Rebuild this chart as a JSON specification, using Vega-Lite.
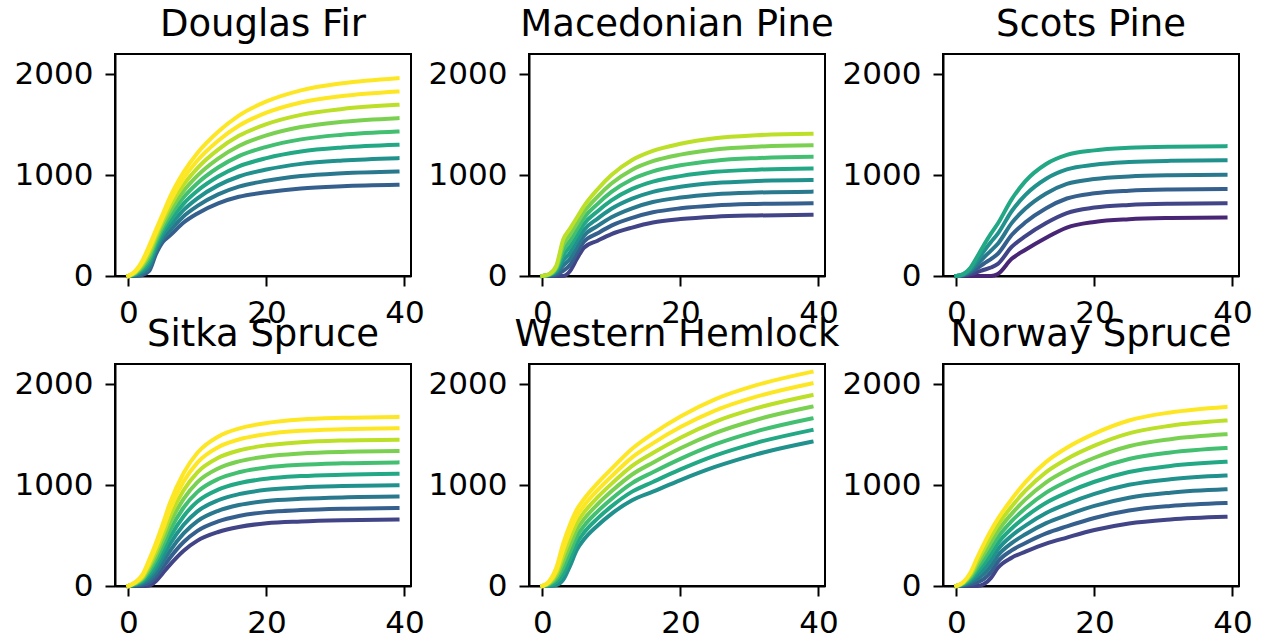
{
"$schema": "https://vega.github.io/schema/vega-lite/v6.json",
"padding": {"left": 13, "top": 5, "right": 0, "bottom": 0},
"background": "white",
"config": {
  "font": "DejaVu Sans",
  "view": {"stroke": "black", "strokeWidth": 2},
  "axis": {"grid": false, "domainColor": "black", "domainWidth": 2, "tickColor": "black", "tickWidth": 2, "tickSize": 10, "labelFontSize": 31, "labelColor": "black", "labelPadding": 12, "labelFlush": false, "labelOverlap": false, "title": null, "format": "d"},
  "title": {"fontSize": 37, "fontWeight": "normal", "color": "black", "offset": 10},
  "line": {"strokeWidth": 4, "interpolate": "monotone", "strokeCap": "square"}
},
"data": {"values": [
{"sp":"DF","yc":8,"t":0,"v":0},{"sp":"DF","yc":8,"t":1,"v":0},{"sp":"DF","yc":8,"t":2,"v":10},{"sp":"DF","yc":8,"t":3,"v":50},{"sp":"DF","yc":8,"t":4,"v":220},{"sp":"DF","yc":8,"t":5,"v":340},{"sp":"DF","yc":8,"t":6,"v":400},{"sp":"DF","yc":8,"t":8,"v":530},{"sp":"DF","yc":8,"t":10,"v":620},{"sp":"DF","yc":8,"t":13,"v":720},{"sp":"DF","yc":8,"t":16,"v":785},{"sp":"DF","yc":8,"t":20,"v":830},{"sp":"DF","yc":8,"t":25,"v":868},{"sp":"DF","yc":8,"t":31,"v":890},{"sp":"DF","yc":8,"t":39,"v":904},
{"sp":"DF","yc":10,"t":0,"v":0},{"sp":"DF","yc":10,"t":1,"v":6},{"sp":"DF","yc":10,"t":2,"v":28},{"sp":"DF","yc":10,"t":3,"v":81},{"sp":"DF","yc":10,"t":4,"v":250},{"sp":"DF","yc":10,"t":5,"v":375},{"sp":"DF","yc":10,"t":6,"v":448},{"sp":"DF","yc":10,"t":8,"v":593},{"sp":"DF","yc":10,"t":10,"v":695},{"sp":"DF","yc":10,"t":13,"v":809},{"sp":"DF","yc":10,"t":16,"v":886},{"sp":"DF","yc":10,"t":20,"v":943},{"sp":"DF","yc":10,"t":25,"v":990},{"sp":"DF","yc":10,"t":31,"v":1018},{"sp":"DF","yc":10,"t":39,"v":1036},
{"sp":"DF","yc":12,"t":0,"v":0},{"sp":"DF","yc":12,"t":1,"v":13},{"sp":"DF","yc":12,"t":2,"v":45},{"sp":"DF","yc":12,"t":3,"v":113},{"sp":"DF","yc":12,"t":4,"v":280},{"sp":"DF","yc":12,"t":5,"v":410},{"sp":"DF","yc":12,"t":6,"v":495},{"sp":"DF","yc":12,"t":8,"v":655},{"sp":"DF","yc":12,"t":10,"v":770},{"sp":"DF","yc":12,"t":13,"v":898},{"sp":"DF","yc":12,"t":16,"v":986},{"sp":"DF","yc":12,"t":20,"v":1055},{"sp":"DF","yc":12,"t":25,"v":1111},{"sp":"DF","yc":12,"t":31,"v":1145},{"sp":"DF","yc":12,"t":39,"v":1168},
{"sp":"DF","yc":14,"t":0,"v":0},{"sp":"DF","yc":14,"t":1,"v":19},{"sp":"DF","yc":14,"t":2,"v":63},{"sp":"DF","yc":14,"t":3,"v":144},{"sp":"DF","yc":14,"t":4,"v":310},{"sp":"DF","yc":14,"t":5,"v":445},{"sp":"DF","yc":14,"t":6,"v":543},{"sp":"DF","yc":14,"t":8,"v":718},{"sp":"DF","yc":14,"t":10,"v":845},{"sp":"DF","yc":14,"t":13,"v":986},{"sp":"DF","yc":14,"t":16,"v":1087},{"sp":"DF","yc":14,"t":20,"v":1168},{"sp":"DF","yc":14,"t":25,"v":1233},{"sp":"DF","yc":14,"t":31,"v":1273},{"sp":"DF","yc":14,"t":39,"v":1300},
{"sp":"DF","yc":16,"t":0,"v":0},{"sp":"DF","yc":16,"t":1,"v":25},{"sp":"DF","yc":16,"t":2,"v":80},{"sp":"DF","yc":16,"t":3,"v":175},{"sp":"DF","yc":16,"t":4,"v":340},{"sp":"DF","yc":16,"t":5,"v":480},{"sp":"DF","yc":16,"t":6,"v":590},{"sp":"DF","yc":16,"t":8,"v":780},{"sp":"DF","yc":16,"t":10,"v":920},{"sp":"DF","yc":16,"t":13,"v":1075},{"sp":"DF","yc":16,"t":16,"v":1188},{"sp":"DF","yc":16,"t":20,"v":1280},{"sp":"DF","yc":16,"t":25,"v":1354},{"sp":"DF","yc":16,"t":31,"v":1400},{"sp":"DF","yc":16,"t":39,"v":1432},
{"sp":"DF","yc":18,"t":0,"v":0},{"sp":"DF","yc":18,"t":1,"v":31},{"sp":"DF","yc":18,"t":2,"v":98},{"sp":"DF","yc":18,"t":3,"v":206},{"sp":"DF","yc":18,"t":4,"v":370},{"sp":"DF","yc":18,"t":5,"v":515},{"sp":"DF","yc":18,"t":6,"v":638},{"sp":"DF","yc":18,"t":8,"v":843},{"sp":"DF","yc":18,"t":10,"v":995},{"sp":"DF","yc":18,"t":13,"v":1164},{"sp":"DF","yc":18,"t":16,"v":1288},{"sp":"DF","yc":18,"t":20,"v":1393},{"sp":"DF","yc":18,"t":25,"v":1476},{"sp":"DF","yc":18,"t":31,"v":1528},{"sp":"DF","yc":18,"t":39,"v":1564},
{"sp":"DF","yc":20,"t":0,"v":0},{"sp":"DF","yc":20,"t":1,"v":38},{"sp":"DF","yc":20,"t":2,"v":115},{"sp":"DF","yc":20,"t":3,"v":238},{"sp":"DF","yc":20,"t":4,"v":400},{"sp":"DF","yc":20,"t":5,"v":550},{"sp":"DF","yc":20,"t":6,"v":685},{"sp":"DF","yc":20,"t":8,"v":905},{"sp":"DF","yc":20,"t":10,"v":1070},{"sp":"DF","yc":20,"t":13,"v":1253},{"sp":"DF","yc":20,"t":16,"v":1389},{"sp":"DF","yc":20,"t":20,"v":1505},{"sp":"DF","yc":20,"t":25,"v":1597},{"sp":"DF","yc":20,"t":31,"v":1655},{"sp":"DF","yc":20,"t":39,"v":1696},
{"sp":"DF","yc":22,"t":0,"v":0},{"sp":"DF","yc":22,"t":1,"v":44},{"sp":"DF","yc":22,"t":2,"v":133},{"sp":"DF","yc":22,"t":3,"v":269},{"sp":"DF","yc":22,"t":4,"v":430},{"sp":"DF","yc":22,"t":5,"v":585},{"sp":"DF","yc":22,"t":6,"v":733},{"sp":"DF","yc":22,"t":8,"v":968},{"sp":"DF","yc":22,"t":10,"v":1145},{"sp":"DF","yc":22,"t":13,"v":1341},{"sp":"DF","yc":22,"t":16,"v":1489},{"sp":"DF","yc":22,"t":20,"v":1618},{"sp":"DF","yc":22,"t":25,"v":1719},{"sp":"DF","yc":22,"t":31,"v":1783},{"sp":"DF","yc":22,"t":39,"v":1828},
{"sp":"DF","yc":24,"t":0,"v":0},{"sp":"DF","yc":24,"t":1,"v":50},{"sp":"DF","yc":24,"t":2,"v":150},{"sp":"DF","yc":24,"t":3,"v":300},{"sp":"DF","yc":24,"t":4,"v":460},{"sp":"DF","yc":24,"t":5,"v":620},{"sp":"DF","yc":24,"t":6,"v":780},{"sp":"DF","yc":24,"t":8,"v":1030},{"sp":"DF","yc":24,"t":10,"v":1220},{"sp":"DF","yc":24,"t":13,"v":1430},{"sp":"DF","yc":24,"t":16,"v":1590},{"sp":"DF","yc":24,"t":20,"v":1730},{"sp":"DF","yc":24,"t":25,"v":1840},{"sp":"DF","yc":24,"t":31,"v":1910},{"sp":"DF","yc":24,"t":39,"v":1960},
{"sp":"MP","yc":6,"t":0,"v":0},{"sp":"MP","yc":6,"t":1,"v":0},{"sp":"MP","yc":6,"t":2,"v":0},{"sp":"MP","yc":6,"t":3,"v":0},{"sp":"MP","yc":6,"t":4,"v":50},{"sp":"MP","yc":6,"t":5,"v":170},{"sp":"MP","yc":6,"t":6,"v":280},{"sp":"MP","yc":6,"t":8,"v":350},{"sp":"MP","yc":6,"t":10,"v":415},{"sp":"MP","yc":6,"t":13,"v":480},{"sp":"MP","yc":6,"t":16,"v":530},{"sp":"MP","yc":6,"t":20,"v":564},{"sp":"MP","yc":6,"t":25,"v":588},{"sp":"MP","yc":6,"t":31,"v":600},{"sp":"MP","yc":6,"t":39,"v":607},
{"sp":"MP","yc":8,"t":0,"v":0},{"sp":"MP","yc":8,"t":1,"v":3},{"sp":"MP","yc":8,"t":2,"v":14},{"sp":"MP","yc":8,"t":3,"v":51},{"sp":"MP","yc":8,"t":4,"v":110},{"sp":"MP","yc":8,"t":5,"v":229},{"sp":"MP","yc":8,"t":6,"v":339},{"sp":"MP","yc":8,"t":8,"v":423},{"sp":"MP","yc":8,"t":10,"v":499},{"sp":"MP","yc":8,"t":13,"v":576},{"sp":"MP","yc":8,"t":16,"v":631},{"sp":"MP","yc":8,"t":20,"v":671},{"sp":"MP","yc":8,"t":25,"v":699},{"sp":"MP","yc":8,"t":31,"v":714},{"sp":"MP","yc":8,"t":39,"v":722},
{"sp":"MP","yc":10,"t":0,"v":0},{"sp":"MP","yc":10,"t":1,"v":6},{"sp":"MP","yc":10,"t":2,"v":29},{"sp":"MP","yc":10,"t":3,"v":103},{"sp":"MP","yc":10,"t":4,"v":170},{"sp":"MP","yc":10,"t":5,"v":287},{"sp":"MP","yc":10,"t":6,"v":397},{"sp":"MP","yc":10,"t":8,"v":496},{"sp":"MP","yc":10,"t":10,"v":582},{"sp":"MP","yc":10,"t":13,"v":671},{"sp":"MP","yc":10,"t":16,"v":733},{"sp":"MP","yc":10,"t":20,"v":777},{"sp":"MP","yc":10,"t":25,"v":810},{"sp":"MP","yc":10,"t":31,"v":827},{"sp":"MP","yc":10,"t":39,"v":836},
{"sp":"MP","yc":12,"t":0,"v":0},{"sp":"MP","yc":12,"t":1,"v":9},{"sp":"MP","yc":12,"t":2,"v":43},{"sp":"MP","yc":12,"t":3,"v":154},{"sp":"MP","yc":12,"t":4,"v":230},{"sp":"MP","yc":12,"t":5,"v":346},{"sp":"MP","yc":12,"t":6,"v":456},{"sp":"MP","yc":12,"t":8,"v":569},{"sp":"MP","yc":12,"t":10,"v":666},{"sp":"MP","yc":12,"t":13,"v":767},{"sp":"MP","yc":12,"t":16,"v":834},{"sp":"MP","yc":12,"t":20,"v":884},{"sp":"MP","yc":12,"t":25,"v":921},{"sp":"MP","yc":12,"t":31,"v":941},{"sp":"MP","yc":12,"t":39,"v":951},
{"sp":"MP","yc":14,"t":0,"v":0},{"sp":"MP","yc":14,"t":1,"v":11},{"sp":"MP","yc":14,"t":2,"v":57},{"sp":"MP","yc":14,"t":3,"v":206},{"sp":"MP","yc":14,"t":4,"v":290},{"sp":"MP","yc":14,"t":5,"v":404},{"sp":"MP","yc":14,"t":6,"v":514},{"sp":"MP","yc":14,"t":8,"v":642},{"sp":"MP","yc":14,"t":10,"v":749},{"sp":"MP","yc":14,"t":13,"v":863},{"sp":"MP","yc":14,"t":16,"v":936},{"sp":"MP","yc":14,"t":20,"v":990},{"sp":"MP","yc":14,"t":25,"v":1032},{"sp":"MP","yc":14,"t":31,"v":1054},{"sp":"MP","yc":14,"t":39,"v":1066},
{"sp":"MP","yc":16,"t":0,"v":0},{"sp":"MP","yc":16,"t":1,"v":14},{"sp":"MP","yc":16,"t":2,"v":71},{"sp":"MP","yc":16,"t":3,"v":257},{"sp":"MP","yc":16,"t":4,"v":350},{"sp":"MP","yc":16,"t":5,"v":463},{"sp":"MP","yc":16,"t":6,"v":573},{"sp":"MP","yc":16,"t":8,"v":715},{"sp":"MP","yc":16,"t":10,"v":833},{"sp":"MP","yc":16,"t":13,"v":959},{"sp":"MP","yc":16,"t":16,"v":1037},{"sp":"MP","yc":16,"t":20,"v":1097},{"sp":"MP","yc":16,"t":25,"v":1143},{"sp":"MP","yc":16,"t":31,"v":1168},{"sp":"MP","yc":16,"t":39,"v":1181},
{"sp":"MP","yc":18,"t":0,"v":0},{"sp":"MP","yc":18,"t":1,"v":17},{"sp":"MP","yc":18,"t":2,"v":86},{"sp":"MP","yc":18,"t":3,"v":309},{"sp":"MP","yc":18,"t":4,"v":410},{"sp":"MP","yc":18,"t":5,"v":521},{"sp":"MP","yc":18,"t":6,"v":631},{"sp":"MP","yc":18,"t":8,"v":787},{"sp":"MP","yc":18,"t":10,"v":916},{"sp":"MP","yc":18,"t":13,"v":1054},{"sp":"MP","yc":18,"t":16,"v":1138},{"sp":"MP","yc":18,"t":20,"v":1203},{"sp":"MP","yc":18,"t":25,"v":1254},{"sp":"MP","yc":18,"t":31,"v":1282},{"sp":"MP","yc":18,"t":39,"v":1295},
{"sp":"MP","yc":20,"t":0,"v":0},{"sp":"MP","yc":20,"t":1,"v":20},{"sp":"MP","yc":20,"t":2,"v":100},{"sp":"MP","yc":20,"t":3,"v":360},{"sp":"MP","yc":20,"t":4,"v":470},{"sp":"MP","yc":20,"t":5,"v":580},{"sp":"MP","yc":20,"t":6,"v":690},{"sp":"MP","yc":20,"t":8,"v":860},{"sp":"MP","yc":20,"t":10,"v":1000},{"sp":"MP","yc":20,"t":13,"v":1150},{"sp":"MP","yc":20,"t":16,"v":1240},{"sp":"MP","yc":20,"t":20,"v":1310},{"sp":"MP","yc":20,"t":25,"v":1365},{"sp":"MP","yc":20,"t":31,"v":1395},{"sp":"MP","yc":20,"t":39,"v":1410},
{"sp":"SP","yc":4,"t":0,"v":0},{"sp":"SP","yc":4,"t":1,"v":0},{"sp":"SP","yc":4,"t":2,"v":0},{"sp":"SP","yc":4,"t":3,"v":0},{"sp":"SP","yc":4,"t":4,"v":0},{"sp":"SP","yc":4,"t":5,"v":0},{"sp":"SP","yc":4,"t":6,"v":20},{"sp":"SP","yc":4,"t":8,"v":170},{"sp":"SP","yc":4,"t":10,"v":260},{"sp":"SP","yc":4,"t":13,"v":380},{"sp":"SP","yc":4,"t":16,"v":480},{"sp":"SP","yc":4,"t":20,"v":536},{"sp":"SP","yc":4,"t":25,"v":563},{"sp":"SP","yc":4,"t":31,"v":575},{"sp":"SP","yc":4,"t":39,"v":580},
{"sp":"SP","yc":6,"t":0,"v":0},{"sp":"SP","yc":6,"t":1,"v":4},{"sp":"SP","yc":6,"t":2,"v":16},{"sp":"SP","yc":6,"t":3,"v":38},{"sp":"SP","yc":6,"t":4,"v":62},{"sp":"SP","yc":6,"t":5,"v":84},{"sp":"SP","yc":6,"t":6,"v":120},{"sp":"SP","yc":6,"t":8,"v":288},{"sp":"SP","yc":6,"t":10,"v":396},{"sp":"SP","yc":6,"t":13,"v":526},{"sp":"SP","yc":6,"t":16,"v":624},{"sp":"SP","yc":6,"t":20,"v":678},{"sp":"SP","yc":6,"t":25,"v":704},{"sp":"SP","yc":6,"t":31,"v":716},{"sp":"SP","yc":6,"t":39,"v":721},
{"sp":"SP","yc":8,"t":0,"v":0},{"sp":"SP","yc":8,"t":1,"v":8},{"sp":"SP","yc":8,"t":2,"v":32},{"sp":"SP","yc":8,"t":3,"v":76},{"sp":"SP","yc":8,"t":4,"v":124},{"sp":"SP","yc":8,"t":5,"v":168},{"sp":"SP","yc":8,"t":6,"v":220},{"sp":"SP","yc":8,"t":8,"v":406},{"sp":"SP","yc":8,"t":10,"v":532},{"sp":"SP","yc":8,"t":13,"v":672},{"sp":"SP","yc":8,"t":16,"v":768},{"sp":"SP","yc":8,"t":20,"v":820},{"sp":"SP","yc":8,"t":25,"v":846},{"sp":"SP","yc":8,"t":31,"v":858},{"sp":"SP","yc":8,"t":39,"v":863},
{"sp":"SP","yc":10,"t":0,"v":0},{"sp":"SP","yc":10,"t":1,"v":12},{"sp":"SP","yc":10,"t":2,"v":48},{"sp":"SP","yc":10,"t":3,"v":114},{"sp":"SP","yc":10,"t":4,"v":186},{"sp":"SP","yc":10,"t":5,"v":252},{"sp":"SP","yc":10,"t":6,"v":320},{"sp":"SP","yc":10,"t":8,"v":524},{"sp":"SP","yc":10,"t":10,"v":668},{"sp":"SP","yc":10,"t":13,"v":818},{"sp":"SP","yc":10,"t":16,"v":912},{"sp":"SP","yc":10,"t":20,"v":961},{"sp":"SP","yc":10,"t":25,"v":987},{"sp":"SP","yc":10,"t":31,"v":999},{"sp":"SP","yc":10,"t":39,"v":1004},
{"sp":"SP","yc":12,"t":0,"v":0},{"sp":"SP","yc":12,"t":1,"v":16},{"sp":"SP","yc":12,"t":2,"v":64},{"sp":"SP","yc":12,"t":3,"v":152},{"sp":"SP","yc":12,"t":4,"v":248},{"sp":"SP","yc":12,"t":5,"v":336},{"sp":"SP","yc":12,"t":6,"v":420},{"sp":"SP","yc":12,"t":8,"v":642},{"sp":"SP","yc":12,"t":10,"v":804},{"sp":"SP","yc":12,"t":13,"v":964},{"sp":"SP","yc":12,"t":16,"v":1056},{"sp":"SP","yc":12,"t":20,"v":1103},{"sp":"SP","yc":12,"t":25,"v":1129},{"sp":"SP","yc":12,"t":31,"v":1141},{"sp":"SP","yc":12,"t":39,"v":1146},
{"sp":"SP","yc":14,"t":0,"v":0},{"sp":"SP","yc":14,"t":1,"v":20},{"sp":"SP","yc":14,"t":2,"v":80},{"sp":"SP","yc":14,"t":3,"v":190},{"sp":"SP","yc":14,"t":4,"v":310},{"sp":"SP","yc":14,"t":5,"v":420},{"sp":"SP","yc":14,"t":6,"v":520},{"sp":"SP","yc":14,"t":8,"v":760},{"sp":"SP","yc":14,"t":10,"v":940},{"sp":"SP","yc":14,"t":13,"v":1110},{"sp":"SP","yc":14,"t":16,"v":1200},{"sp":"SP","yc":14,"t":20,"v":1245},{"sp":"SP","yc":14,"t":25,"v":1270},{"sp":"SP","yc":14,"t":31,"v":1282},{"sp":"SP","yc":14,"t":39,"v":1287},
{"sp":"SS","yc":6,"t":0,"v":0},{"sp":"SS","yc":6,"t":1,"v":0},{"sp":"SS","yc":6,"t":2,"v":0},{"sp":"SS","yc":6,"t":3,"v":5},{"sp":"SS","yc":6,"t":4,"v":50},{"sp":"SS","yc":6,"t":5,"v":130},{"sp":"SS","yc":6,"t":6,"v":210},{"sp":"SS","yc":6,"t":8,"v":350},{"sp":"SS","yc":6,"t":10,"v":450},{"sp":"SS","yc":6,"t":13,"v":535},{"sp":"SS","yc":6,"t":16,"v":585},{"sp":"SS","yc":6,"t":20,"v":622},{"sp":"SS","yc":6,"t":25,"v":640},{"sp":"SS","yc":6,"t":31,"v":652},{"sp":"SS","yc":6,"t":39,"v":660},
{"sp":"SS","yc":8,"t":0,"v":0},{"sp":"SS","yc":8,"t":1,"v":4},{"sp":"SS","yc":8,"t":2,"v":12},{"sp":"SS","yc":8,"t":3,"v":33},{"sp":"SS","yc":8,"t":4,"v":92},{"sp":"SS","yc":8,"t":5,"v":184},{"sp":"SS","yc":8,"t":6,"v":278},{"sp":"SS","yc":8,"t":8,"v":436},{"sp":"SS","yc":8,"t":10,"v":547},{"sp":"SS","yc":8,"t":13,"v":640},{"sp":"SS","yc":8,"t":16,"v":693},{"sp":"SS","yc":8,"t":20,"v":732},{"sp":"SS","yc":8,"t":25,"v":752},{"sp":"SS","yc":8,"t":31,"v":765},{"sp":"SS","yc":8,"t":39,"v":773},
{"sp":"SS","yc":10,"t":0,"v":0},{"sp":"SS","yc":10,"t":1,"v":9},{"sp":"SS","yc":10,"t":2,"v":24},{"sp":"SS","yc":10,"t":3,"v":62},{"sp":"SS","yc":10,"t":4,"v":134},{"sp":"SS","yc":10,"t":5,"v":239},{"sp":"SS","yc":10,"t":6,"v":346},{"sp":"SS","yc":10,"t":8,"v":521},{"sp":"SS","yc":10,"t":10,"v":643},{"sp":"SS","yc":10,"t":13,"v":745},{"sp":"SS","yc":10,"t":16,"v":802},{"sp":"SS","yc":10,"t":20,"v":843},{"sp":"SS","yc":10,"t":25,"v":864},{"sp":"SS","yc":10,"t":31,"v":878},{"sp":"SS","yc":10,"t":39,"v":886},
{"sp":"SS","yc":12,"t":0,"v":0},{"sp":"SS","yc":12,"t":1,"v":13},{"sp":"SS","yc":12,"t":2,"v":37},{"sp":"SS","yc":12,"t":3,"v":90},{"sp":"SS","yc":12,"t":4,"v":177},{"sp":"SS","yc":12,"t":5,"v":293},{"sp":"SS","yc":12,"t":6,"v":413},{"sp":"SS","yc":12,"t":8,"v":607},{"sp":"SS","yc":12,"t":10,"v":740},{"sp":"SS","yc":12,"t":13,"v":850},{"sp":"SS","yc":12,"t":16,"v":910},{"sp":"SS","yc":12,"t":20,"v":953},{"sp":"SS","yc":12,"t":25,"v":977},{"sp":"SS","yc":12,"t":31,"v":990},{"sp":"SS","yc":12,"t":39,"v":999},
{"sp":"SS","yc":14,"t":0,"v":0},{"sp":"SS","yc":14,"t":1,"v":18},{"sp":"SS","yc":14,"t":2,"v":49},{"sp":"SS","yc":14,"t":3,"v":118},{"sp":"SS","yc":14,"t":4,"v":219},{"sp":"SS","yc":14,"t":5,"v":348},{"sp":"SS","yc":14,"t":6,"v":481},{"sp":"SS","yc":14,"t":8,"v":692},{"sp":"SS","yc":14,"t":10,"v":837},{"sp":"SS","yc":14,"t":13,"v":955},{"sp":"SS","yc":14,"t":16,"v":1018},{"sp":"SS","yc":14,"t":20,"v":1063},{"sp":"SS","yc":14,"t":25,"v":1089},{"sp":"SS","yc":14,"t":31,"v":1103},{"sp":"SS","yc":14,"t":39,"v":1112},
{"sp":"SS","yc":16,"t":0,"v":0},{"sp":"SS","yc":16,"t":1,"v":22},{"sp":"SS","yc":16,"t":2,"v":61},{"sp":"SS","yc":16,"t":3,"v":147},{"sp":"SS","yc":16,"t":4,"v":261},{"sp":"SS","yc":16,"t":5,"v":402},{"sp":"SS","yc":16,"t":6,"v":549},{"sp":"SS","yc":16,"t":8,"v":778},{"sp":"SS","yc":16,"t":10,"v":933},{"sp":"SS","yc":16,"t":13,"v":1060},{"sp":"SS","yc":16,"t":16,"v":1127},{"sp":"SS","yc":16,"t":20,"v":1174},{"sp":"SS","yc":16,"t":25,"v":1201},{"sp":"SS","yc":16,"t":31,"v":1216},{"sp":"SS","yc":16,"t":39,"v":1225},
{"sp":"SS","yc":18,"t":0,"v":0},{"sp":"SS","yc":18,"t":1,"v":27},{"sp":"SS","yc":18,"t":2,"v":73},{"sp":"SS","yc":18,"t":3,"v":175},{"sp":"SS","yc":18,"t":4,"v":303},{"sp":"SS","yc":18,"t":5,"v":456},{"sp":"SS","yc":18,"t":6,"v":617},{"sp":"SS","yc":18,"t":8,"v":864},{"sp":"SS","yc":18,"t":10,"v":1030},{"sp":"SS","yc":18,"t":13,"v":1165},{"sp":"SS","yc":18,"t":16,"v":1235},{"sp":"SS","yc":18,"t":20,"v":1284},{"sp":"SS","yc":18,"t":25,"v":1313},{"sp":"SS","yc":18,"t":31,"v":1329},{"sp":"SS","yc":18,"t":39,"v":1337},
{"sp":"SS","yc":20,"t":0,"v":0},{"sp":"SS","yc":20,"t":1,"v":31},{"sp":"SS","yc":20,"t":2,"v":85},{"sp":"SS","yc":20,"t":3,"v":203},{"sp":"SS","yc":20,"t":4,"v":345},{"sp":"SS","yc":20,"t":5,"v":511},{"sp":"SS","yc":20,"t":6,"v":685},{"sp":"SS","yc":20,"t":8,"v":949},{"sp":"SS","yc":20,"t":10,"v":1127},{"sp":"SS","yc":20,"t":13,"v":1270},{"sp":"SS","yc":20,"t":16,"v":1343},{"sp":"SS","yc":20,"t":20,"v":1394},{"sp":"SS","yc":20,"t":25,"v":1425},{"sp":"SS","yc":20,"t":31,"v":1442},{"sp":"SS","yc":20,"t":39,"v":1450},
{"sp":"SS","yc":22,"t":0,"v":0},{"sp":"SS","yc":22,"t":1,"v":36},{"sp":"SS","yc":22,"t":2,"v":98},{"sp":"SS","yc":22,"t":3,"v":232},{"sp":"SS","yc":22,"t":4,"v":388},{"sp":"SS","yc":22,"t":5,"v":565},{"sp":"SS","yc":22,"t":6,"v":752},{"sp":"SS","yc":22,"t":8,"v":1035},{"sp":"SS","yc":22,"t":10,"v":1223},{"sp":"SS","yc":22,"t":13,"v":1375},{"sp":"SS","yc":22,"t":16,"v":1452},{"sp":"SS","yc":22,"t":20,"v":1505},{"sp":"SS","yc":22,"t":25,"v":1538},{"sp":"SS","yc":22,"t":31,"v":1554},{"sp":"SS","yc":22,"t":39,"v":1563},
{"sp":"SS","yc":24,"t":0,"v":0},{"sp":"SS","yc":24,"t":1,"v":40},{"sp":"SS","yc":24,"t":2,"v":110},{"sp":"SS","yc":24,"t":3,"v":260},{"sp":"SS","yc":24,"t":4,"v":430},{"sp":"SS","yc":24,"t":5,"v":620},{"sp":"SS","yc":24,"t":6,"v":820},{"sp":"SS","yc":24,"t":8,"v":1120},{"sp":"SS","yc":24,"t":10,"v":1320},{"sp":"SS","yc":24,"t":13,"v":1480},{"sp":"SS","yc":24,"t":16,"v":1560},{"sp":"SS","yc":24,"t":20,"v":1615},{"sp":"SS","yc":24,"t":25,"v":1650},{"sp":"SS","yc":24,"t":31,"v":1667},{"sp":"SS","yc":24,"t":39,"v":1676},
{"sp":"WH","yc":12,"t":0,"v":0},{"sp":"WH","yc":12,"t":1,"v":0},{"sp":"WH","yc":12,"t":2,"v":10},{"sp":"WH","yc":12,"t":3,"v":60},{"sp":"WH","yc":12,"t":4,"v":200},{"sp":"WH","yc":12,"t":5,"v":360},{"sp":"WH","yc":12,"t":6,"v":460},{"sp":"WH","yc":12,"t":8,"v":600},{"sp":"WH","yc":12,"t":10,"v":715},{"sp":"WH","yc":12,"t":13,"v":850},{"sp":"WH","yc":12,"t":16,"v":935},{"sp":"WH","yc":12,"t":20,"v":1050},{"sp":"WH","yc":12,"t":25,"v":1180},{"sp":"WH","yc":12,"t":31,"v":1305},{"sp":"WH","yc":12,"t":39,"v":1429},
{"sp":"WH","yc":14,"t":0,"v":0},{"sp":"WH","yc":14,"t":1,"v":8},{"sp":"WH","yc":14,"t":2,"v":38},{"sp":"WH","yc":14,"t":3,"v":120},{"sp":"WH","yc":14,"t":4,"v":268},{"sp":"WH","yc":14,"t":5,"v":427},{"sp":"WH","yc":14,"t":6,"v":527},{"sp":"WH","yc":14,"t":8,"v":670},{"sp":"WH","yc":14,"t":10,"v":789},{"sp":"WH","yc":14,"t":13,"v":935},{"sp":"WH","yc":14,"t":16,"v":1031},{"sp":"WH","yc":14,"t":20,"v":1155},{"sp":"WH","yc":14,"t":25,"v":1292},{"sp":"WH","yc":14,"t":31,"v":1419},{"sp":"WH","yc":14,"t":39,"v":1545},
{"sp":"WH","yc":16,"t":0,"v":0},{"sp":"WH","yc":16,"t":1,"v":17},{"sp":"WH","yc":16,"t":2,"v":67},{"sp":"WH","yc":16,"t":3,"v":180},{"sp":"WH","yc":16,"t":4,"v":337},{"sp":"WH","yc":16,"t":5,"v":493},{"sp":"WH","yc":16,"t":6,"v":593},{"sp":"WH","yc":16,"t":8,"v":740},{"sp":"WH","yc":16,"t":10,"v":863},{"sp":"WH","yc":16,"t":13,"v":1020},{"sp":"WH","yc":16,"t":16,"v":1127},{"sp":"WH","yc":16,"t":20,"v":1260},{"sp":"WH","yc":16,"t":25,"v":1403},{"sp":"WH","yc":16,"t":31,"v":1533},{"sp":"WH","yc":16,"t":39,"v":1660},
{"sp":"WH","yc":18,"t":0,"v":0},{"sp":"WH","yc":18,"t":1,"v":25},{"sp":"WH","yc":18,"t":2,"v":95},{"sp":"WH","yc":18,"t":3,"v":240},{"sp":"WH","yc":18,"t":4,"v":405},{"sp":"WH","yc":18,"t":5,"v":560},{"sp":"WH","yc":18,"t":6,"v":660},{"sp":"WH","yc":18,"t":8,"v":810},{"sp":"WH","yc":18,"t":10,"v":938},{"sp":"WH","yc":18,"t":13,"v":1105},{"sp":"WH","yc":18,"t":16,"v":1222},{"sp":"WH","yc":18,"t":20,"v":1365},{"sp":"WH","yc":18,"t":25,"v":1515},{"sp":"WH","yc":18,"t":31,"v":1648},{"sp":"WH","yc":18,"t":39,"v":1776},
{"sp":"WH","yc":20,"t":0,"v":0},{"sp":"WH","yc":20,"t":1,"v":33},{"sp":"WH","yc":20,"t":2,"v":123},{"sp":"WH","yc":20,"t":3,"v":300},{"sp":"WH","yc":20,"t":4,"v":473},{"sp":"WH","yc":20,"t":5,"v":627},{"sp":"WH","yc":20,"t":6,"v":727},{"sp":"WH","yc":20,"t":8,"v":880},{"sp":"WH","yc":20,"t":10,"v":1012},{"sp":"WH","yc":20,"t":13,"v":1190},{"sp":"WH","yc":20,"t":16,"v":1318},{"sp":"WH","yc":20,"t":20,"v":1470},{"sp":"WH","yc":20,"t":25,"v":1627},{"sp":"WH","yc":20,"t":31,"v":1762},{"sp":"WH","yc":20,"t":39,"v":1891},
{"sp":"WH","yc":22,"t":0,"v":0},{"sp":"WH","yc":22,"t":1,"v":42},{"sp":"WH","yc":22,"t":2,"v":152},{"sp":"WH","yc":22,"t":3,"v":360},{"sp":"WH","yc":22,"t":4,"v":542},{"sp":"WH","yc":22,"t":5,"v":693},{"sp":"WH","yc":22,"t":6,"v":793},{"sp":"WH","yc":22,"t":8,"v":950},{"sp":"WH","yc":22,"t":10,"v":1086},{"sp":"WH","yc":22,"t":13,"v":1275},{"sp":"WH","yc":22,"t":16,"v":1414},{"sp":"WH","yc":22,"t":20,"v":1575},{"sp":"WH","yc":22,"t":25,"v":1738},{"sp":"WH","yc":22,"t":31,"v":1876},{"sp":"WH","yc":22,"t":39,"v":2007},
{"sp":"WH","yc":24,"t":0,"v":0},{"sp":"WH","yc":24,"t":1,"v":50},{"sp":"WH","yc":24,"t":2,"v":180},{"sp":"WH","yc":24,"t":3,"v":420},{"sp":"WH","yc":24,"t":4,"v":610},{"sp":"WH","yc":24,"t":5,"v":760},{"sp":"WH","yc":24,"t":6,"v":860},{"sp":"WH","yc":24,"t":8,"v":1020},{"sp":"WH","yc":24,"t":10,"v":1160},{"sp":"WH","yc":24,"t":13,"v":1360},{"sp":"WH","yc":24,"t":16,"v":1510},{"sp":"WH","yc":24,"t":20,"v":1680},{"sp":"WH","yc":24,"t":25,"v":1850},{"sp":"WH","yc":24,"t":31,"v":1990},{"sp":"WH","yc":24,"t":39,"v":2122},
{"sp":"NS","yc":6,"t":0,"v":0},{"sp":"NS","yc":6,"t":1,"v":0},{"sp":"NS","yc":6,"t":2,"v":0},{"sp":"NS","yc":6,"t":3,"v":0},{"sp":"NS","yc":6,"t":4,"v":20},{"sp":"NS","yc":6,"t":5,"v":80},{"sp":"NS","yc":6,"t":6,"v":180},{"sp":"NS","yc":6,"t":8,"v":280},{"sp":"NS","yc":6,"t":10,"v":340},{"sp":"NS","yc":6,"t":13,"v":420},{"sp":"NS","yc":6,"t":16,"v":480},{"sp":"NS","yc":6,"t":20,"v":555},{"sp":"NS","yc":6,"t":25,"v":620},{"sp":"NS","yc":6,"t":31,"v":660},{"sp":"NS","yc":6,"t":39,"v":686},
{"sp":"NS","yc":8,"t":0,"v":0},{"sp":"NS","yc":8,"t":1,"v":5},{"sp":"NS","yc":8,"t":2,"v":16},{"sp":"NS","yc":8,"t":3,"v":35},{"sp":"NS","yc":8,"t":4,"v":70},{"sp":"NS","yc":8,"t":5,"v":139},{"sp":"NS","yc":8,"t":6,"v":241},{"sp":"NS","yc":8,"t":8,"v":353},{"sp":"NS","yc":8,"t":10,"v":426},{"sp":"NS","yc":8,"t":13,"v":521},{"sp":"NS","yc":8,"t":16,"v":591},{"sp":"NS","yc":8,"t":20,"v":674},{"sp":"NS","yc":8,"t":25,"v":748},{"sp":"NS","yc":8,"t":31,"v":793},{"sp":"NS","yc":8,"t":39,"v":822},
{"sp":"NS","yc":10,"t":0,"v":0},{"sp":"NS","yc":10,"t":1,"v":10},{"sp":"NS","yc":10,"t":2,"v":33},{"sp":"NS","yc":10,"t":3,"v":70},{"sp":"NS","yc":10,"t":4,"v":120},{"sp":"NS","yc":10,"t":5,"v":198},{"sp":"NS","yc":10,"t":6,"v":301},{"sp":"NS","yc":10,"t":8,"v":425},{"sp":"NS","yc":10,"t":10,"v":513},{"sp":"NS","yc":10,"t":13,"v":623},{"sp":"NS","yc":10,"t":16,"v":703},{"sp":"NS","yc":10,"t":20,"v":794},{"sp":"NS","yc":10,"t":25,"v":875},{"sp":"NS","yc":10,"t":31,"v":925},{"sp":"NS","yc":10,"t":39,"v":958},
{"sp":"NS","yc":12,"t":0,"v":0},{"sp":"NS","yc":12,"t":1,"v":15},{"sp":"NS","yc":12,"t":2,"v":49},{"sp":"NS","yc":12,"t":3,"v":105},{"sp":"NS","yc":12,"t":4,"v":170},{"sp":"NS","yc":12,"t":5,"v":256},{"sp":"NS","yc":12,"t":6,"v":362},{"sp":"NS","yc":12,"t":8,"v":498},{"sp":"NS","yc":12,"t":10,"v":599},{"sp":"NS","yc":12,"t":13,"v":724},{"sp":"NS","yc":12,"t":16,"v":814},{"sp":"NS","yc":12,"t":20,"v":913},{"sp":"NS","yc":12,"t":25,"v":1003},{"sp":"NS","yc":12,"t":31,"v":1058},{"sp":"NS","yc":12,"t":39,"v":1094},
{"sp":"NS","yc":14,"t":0,"v":0},{"sp":"NS","yc":14,"t":1,"v":20},{"sp":"NS","yc":14,"t":2,"v":65},{"sp":"NS","yc":14,"t":3,"v":140},{"sp":"NS","yc":14,"t":4,"v":220},{"sp":"NS","yc":14,"t":5,"v":315},{"sp":"NS","yc":14,"t":6,"v":423},{"sp":"NS","yc":14,"t":8,"v":570},{"sp":"NS","yc":14,"t":10,"v":685},{"sp":"NS","yc":14,"t":13,"v":825},{"sp":"NS","yc":14,"t":16,"v":925},{"sp":"NS","yc":14,"t":20,"v":1033},{"sp":"NS","yc":14,"t":25,"v":1130},{"sp":"NS","yc":14,"t":31,"v":1190},{"sp":"NS","yc":14,"t":39,"v":1231},
{"sp":"NS","yc":16,"t":0,"v":0},{"sp":"NS","yc":16,"t":1,"v":25},{"sp":"NS","yc":16,"t":2,"v":81},{"sp":"NS","yc":16,"t":3,"v":175},{"sp":"NS","yc":16,"t":4,"v":270},{"sp":"NS","yc":16,"t":5,"v":374},{"sp":"NS","yc":16,"t":6,"v":483},{"sp":"NS","yc":16,"t":8,"v":643},{"sp":"NS","yc":16,"t":10,"v":771},{"sp":"NS","yc":16,"t":13,"v":926},{"sp":"NS","yc":16,"t":16,"v":1036},{"sp":"NS","yc":16,"t":20,"v":1152},{"sp":"NS","yc":16,"t":25,"v":1258},{"sp":"NS","yc":16,"t":31,"v":1323},{"sp":"NS","yc":16,"t":39,"v":1367},
{"sp":"NS","yc":18,"t":0,"v":0},{"sp":"NS","yc":18,"t":1,"v":30},{"sp":"NS","yc":18,"t":2,"v":98},{"sp":"NS","yc":18,"t":3,"v":210},{"sp":"NS","yc":18,"t":4,"v":320},{"sp":"NS","yc":18,"t":5,"v":433},{"sp":"NS","yc":18,"t":6,"v":544},{"sp":"NS","yc":18,"t":8,"v":715},{"sp":"NS","yc":18,"t":10,"v":858},{"sp":"NS","yc":18,"t":13,"v":1028},{"sp":"NS","yc":18,"t":16,"v":1148},{"sp":"NS","yc":18,"t":20,"v":1271},{"sp":"NS","yc":18,"t":25,"v":1385},{"sp":"NS","yc":18,"t":31,"v":1455},{"sp":"NS","yc":18,"t":39,"v":1503},
{"sp":"NS","yc":20,"t":0,"v":0},{"sp":"NS","yc":20,"t":1,"v":35},{"sp":"NS","yc":20,"t":2,"v":114},{"sp":"NS","yc":20,"t":3,"v":245},{"sp":"NS","yc":20,"t":4,"v":370},{"sp":"NS","yc":20,"t":5,"v":491},{"sp":"NS","yc":20,"t":6,"v":604},{"sp":"NS","yc":20,"t":8,"v":788},{"sp":"NS","yc":20,"t":10,"v":944},{"sp":"NS","yc":20,"t":13,"v":1129},{"sp":"NS","yc":20,"t":16,"v":1259},{"sp":"NS","yc":20,"t":20,"v":1391},{"sp":"NS","yc":20,"t":25,"v":1513},{"sp":"NS","yc":20,"t":31,"v":1588},{"sp":"NS","yc":20,"t":39,"v":1639},
{"sp":"NS","yc":22,"t":0,"v":0},{"sp":"NS","yc":22,"t":1,"v":40},{"sp":"NS","yc":22,"t":2,"v":130},{"sp":"NS","yc":22,"t":3,"v":280},{"sp":"NS","yc":22,"t":4,"v":420},{"sp":"NS","yc":22,"t":5,"v":550},{"sp":"NS","yc":22,"t":6,"v":665},{"sp":"NS","yc":22,"t":8,"v":860},{"sp":"NS","yc":22,"t":10,"v":1030},{"sp":"NS","yc":22,"t":13,"v":1230},{"sp":"NS","yc":22,"t":16,"v":1370},{"sp":"NS","yc":22,"t":20,"v":1510},{"sp":"NS","yc":22,"t":25,"v":1640},{"sp":"NS","yc":22,"t":31,"v":1720},{"sp":"NS","yc":22,"t":39,"v":1775}
]},
"columns": 3,
"spacing": {"row": 88, "column": 118},
"bounds": "flush",
"concat": [
{"title": "Douglas Fir", "width": 296, "height": 222, "transform": [{"filter": "datum.sp === 'DF'"}], "mark": "line",
 "encoding": {"x": {"field": "t", "type": "quantitative", "scale": {"domain": [-1.95, 40.95], "nice": false, "zero": false}, "axis": {"values": [0, 20, 40]}},
  "y": {"field": "v", "type": "quantitative", "scale": {"domain": [0, 2200], "nice": false}, "axis": {"values": [0, 1000, 2000]}},
  "color": {"field": "yc", "type": "quantitative", "scale": {"scheme": "viridis", "domain": [2, 22], "clamp": true}, "legend": null}}},
{"title": "Macedonian Pine", "width": 296, "height": 222, "transform": [{"filter": "datum.sp === 'MP'"}], "mark": "line",
 "encoding": {"x": {"field": "t", "type": "quantitative", "scale": {"domain": [-1.95, 40.95], "nice": false, "zero": false}, "axis": {"values": [0, 20, 40]}},
  "y": {"field": "v", "type": "quantitative", "scale": {"domain": [0, 2200], "nice": false}, "axis": {"values": [0, 1000, 2000]}},
  "color": {"field": "yc", "type": "quantitative", "scale": {"scheme": "viridis", "domain": [2, 22], "clamp": true}, "legend": null}}},
{"title": "Scots Pine", "width": 296, "height": 222, "transform": [{"filter": "datum.sp === 'SP'"}], "mark": "line",
 "encoding": {"x": {"field": "t", "type": "quantitative", "scale": {"domain": [-1.95, 40.95], "nice": false, "zero": false}, "axis": {"values": [0, 20, 40]}},
  "y": {"field": "v", "type": "quantitative", "scale": {"domain": [0, 2200], "nice": false}, "axis": {"values": [0, 1000, 2000]}},
  "color": {"field": "yc", "type": "quantitative", "scale": {"scheme": "viridis", "domain": [2, 22], "clamp": true}, "legend": null}}},
{"title": "Sitka Spruce", "width": 296, "height": 222, "transform": [{"filter": "datum.sp === 'SS'"}], "mark": "line",
 "encoding": {"x": {"field": "t", "type": "quantitative", "scale": {"domain": [-1.95, 40.95], "nice": false, "zero": false}, "axis": {"values": [0, 20, 40]}},
  "y": {"field": "v", "type": "quantitative", "scale": {"domain": [0, 2200], "nice": false}, "axis": {"values": [0, 1000, 2000]}},
  "color": {"field": "yc", "type": "quantitative", "scale": {"scheme": "viridis", "domain": [2, 22], "clamp": true}, "legend": null}}},
{"title": "Western Hemlock", "width": 296, "height": 222, "transform": [{"filter": "datum.sp === 'WH'"}], "mark": "line",
 "encoding": {"x": {"field": "t", "type": "quantitative", "scale": {"domain": [-1.95, 40.95], "nice": false, "zero": false}, "axis": {"values": [0, 20, 40]}},
  "y": {"field": "v", "type": "quantitative", "scale": {"domain": [0, 2200], "nice": false}, "axis": {"values": [0, 1000, 2000]}},
  "color": {"field": "yc", "type": "quantitative", "scale": {"scheme": "viridis", "domain": [2, 22], "clamp": true}, "legend": null}}},
{"title": "Norway Spruce", "width": 296, "height": 222, "transform": [{"filter": "datum.sp === 'NS'"}], "mark": "line",
 "encoding": {"x": {"field": "t", "type": "quantitative", "scale": {"domain": [-1.95, 40.95], "nice": false, "zero": false}, "axis": {"values": [0, 20, 40]}},
  "y": {"field": "v", "type": "quantitative", "scale": {"domain": [0, 2200], "nice": false}, "axis": {"values": [0, 1000, 2000]}},
  "color": {"field": "yc", "type": "quantitative", "scale": {"scheme": "viridis", "domain": [2, 22], "clamp": true}, "legend": null}}}
]
}
